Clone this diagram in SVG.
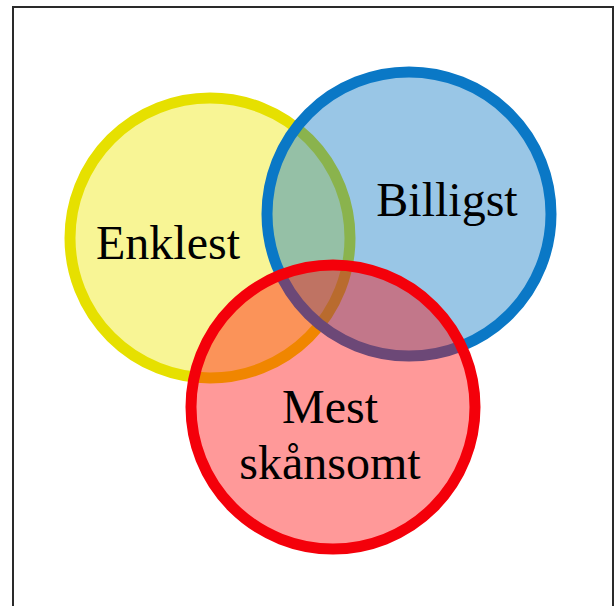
<svg xmlns="http://www.w3.org/2000/svg" width="614" height="606" viewBox="0 0 614 606">
<style>
.c{stroke-width:11}
.t{font-family:"Liberation Serif","Times New Roman",serif;font-size:48px;fill:#000;text-anchor:middle}
</style>
<rect x="0" y="0" width="614" height="606" fill="#fff"/>
<rect x="13" y="7" width="600" height="610" fill="none" stroke="#2a2a2a" stroke-width="2"/>
<g id="enklest">
<circle cx="210" cy="238" r="140" fill="#f0e814" fill-opacity="0.45" stroke="#e6e000" class="c"/>
<text class="t" x="168" y="259">Enklest</text>
</g>
<g id="billigst">
<circle cx="409" cy="214" r="142" fill="#0070c0" fill-opacity="0.4" stroke="#0a78c6" class="c"/>
<text class="t" x="447" y="216">Billigst</text>
</g>
<g id="mest">
<circle cx="333" cy="407" r="142" fill="#ff0000" fill-opacity="0.4" stroke="#f4000a" class="c"/>
<text class="t" x="330" y="423">Mest</text>
<text class="t" x="330" y="479">skånsomt</text>
</g>
<g id="connectors"/>
</svg>
